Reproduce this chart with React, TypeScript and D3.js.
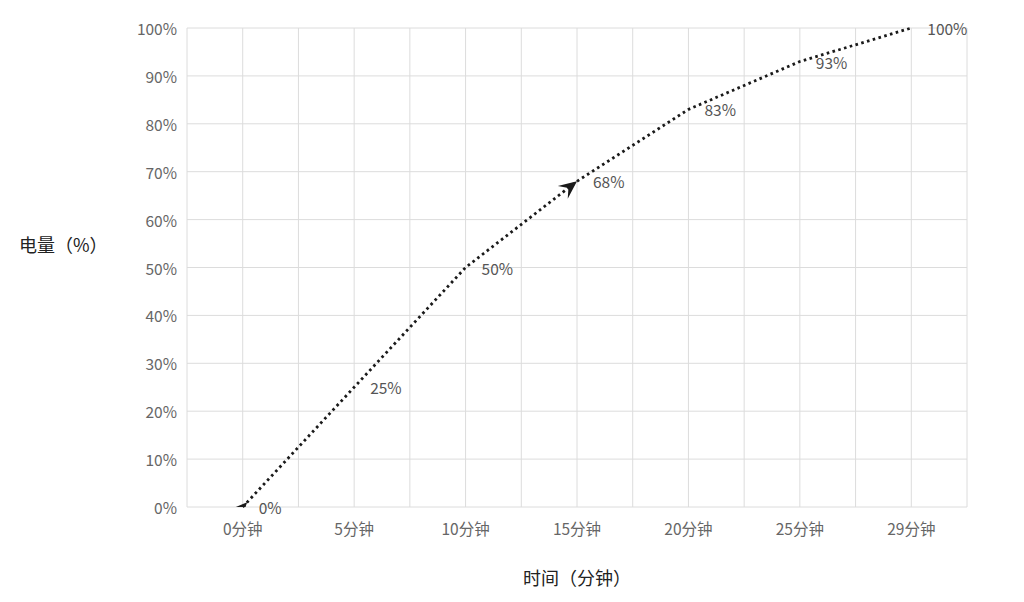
import React from "react";
import * as d3 from "d3";

const categories = ["0分钟", "5分钟", "10分钟", "15分钟", "20分钟", "25分钟", "29分钟"];
const charge = [0, 25, 50, 68, 83, 93, 100];
const yTicks = [0, 10, 20, 30, 40, 50, 60, 70, 80, 90, 100];
const arrowAt = [0, 3]; // points that carry an arrow head

const W = 1024;
const H = 602;
const margin = { top: 28, right: 57, bottom: 95, left: 187 };

const FONT = "'Noto Sans CJK SC', 'Noto Sans', sans-serif";

export default function App() {
  const x = d3
    .scaleBand<string>()
    .domain(categories)
    .range([margin.left, W - margin.right]);

  const y = d3
    .scaleLinear()
    .domain([0, 100])
    .range([H - margin.bottom, margin.top]);

  const cx = (i: number) => (x(categories[i]) ?? 0) + x.bandwidth() / 2;

  // vertical grid at every half band
  const half = x.bandwidth() / 2;
  const vLines = d3.range(categories.length * 2 + 1).map((i) => margin.left + i * half);

  const line = d3
    .line<number>()
    .x((_, i) => cx(i))
    .y((d) => y(d));

  // arrow head pointing along the line direction
  // first point: arrow centred on the point (half of it is hidden under the axis)
  const arrow = (i: number, size: number) => {
    const a = i === 0 ? 0 : i - 1;
    const b = i === 0 ? 1 : i;
    const dx = cx(b) - cx(a);
    const dy = y(charge[b]) - y(charge[a]);
    const ang = (Math.atan2(dy, dx) * 180) / Math.PI;
    const s = size;
    const shift = i === 0 ? s / 2 : 0;
    const p = `M${shift},0 L${shift - s},${-s * 0.45} L${shift - s * 0.6},0 L${shift - s},${s * 0.45} Z`;
    return (
      <path
        key={`a${i}`}
        d={p}
        fill="#1a1a1a"
        transform={`translate(${cx(i)},${y(charge[i])}) rotate(${ang})`}
      />
    );
  };

  return (
    <svg
      width={W}
      height={H}
      style={{ position: "absolute", left: 0, top: 0, background: "#fff" }}
      fontFamily={FONT}
    >
      <defs>
        <clipPath id="plot">
          <rect x={0} y={0} width={W} height={H - margin.bottom} />
        </clipPath>
      </defs>

      {/* horizontal grid */}
      {yTicks.map((t) => (
        <line
          key={`h${t}`}
          x1={margin.left}
          x2={W - margin.right}
          y1={y(t)}
          y2={y(t)}
          stroke="#dcdcdc"
          strokeWidth={1}
        />
      ))}
      {/* vertical grid */}
      {vLines.map((vx, i) => (
        <line
          key={`v${i}`}
          x1={vx}
          x2={vx}
          y1={margin.top}
          y2={H - margin.bottom}
          stroke="#dcdcdc"
          strokeWidth={1}
        />
      ))}

      {/* y tick labels */}
      {yTicks.map((t) => (
        <text
          key={`yt${t}`}
          x={margin.left - 10}
          y={y(t)}
          textAnchor="end"
          dominantBaseline="central"
          fontSize={15.5}
          fill="#666"
        >
          {`${t}%`}
        </text>
      ))}

      {/* x tick labels */}
      {categories.map((c, i) => (
        <text
          key={`xt${c}`}
          x={cx(i)}
          y={H - margin.bottom + 21}
          textAnchor="middle"
          dominantBaseline="central"
          fontSize={15.5}
          fill="#666"
        >
          {c}
        </text>
      ))}

      {/* axis names */}
      <text x={19} y={244} dominantBaseline="central" fontSize={18} fill="#222">
        电量（%）
      </text>
      <text
        x={(margin.left + W - margin.right) / 2}
        y={577}
        textAnchor="middle"
        dominantBaseline="central"
        fontSize={18}
        fill="#222"
      >
        时间（分钟）
      </text>

      {/* dotted line */}
      <path
        d={line(charge) ?? ""}
        fill="none"
        stroke="#1a1a1a"
        strokeWidth={2.8}
        strokeDasharray="2.6 3.4"
      />

      <g clipPath="url(#plot)">{arrowAt.map((i) => arrow(i, i === 0 ? 13 : 18))}</g>

      {/* value labels */}
      {charge.map((v, i) => (
        <text
          key={`l${i}`}
          x={cx(i) + 16}
          y={y(v)}
          dominantBaseline="central"
          fontSize={15.5}
          fill="#555"
        >
          {`${v}%`}
        </text>
      ))}
    </svg>
  );
}
